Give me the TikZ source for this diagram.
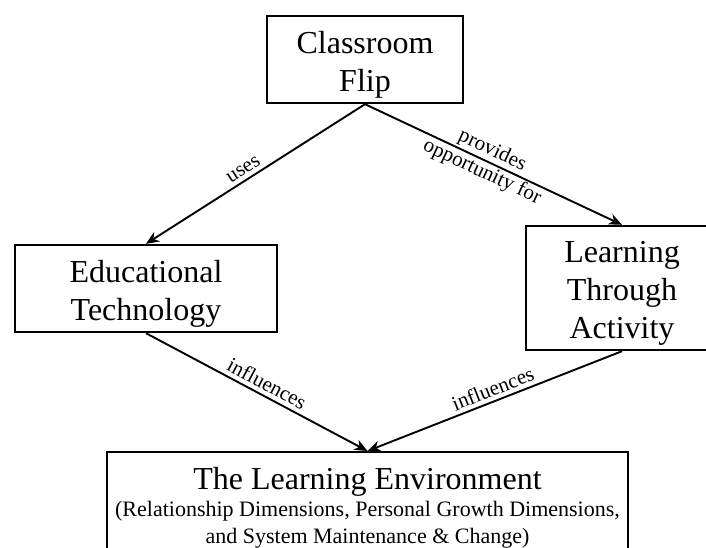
\documentclass[tikz,border=0pt]{standalone}
\usepackage{fontspec}
\setmainfont{Liberation Serif}
\usetikzlibrary{arrows.meta}
\newcommand\mytopstrut{\rule{0pt}{32pt}}
\begin{document}
\begin{tikzpicture}[x=1pt,y=-1pt,
  box/.style={draw, line width=2.4pt, rectangle, inner sep=0pt, align=center,
              font=\fontsize{32}{38}\selectfont},
  conn/.style={line width=1.9pt, -{Stealth[length=13pt,width=11pt,inset=4pt]}},
  lab/.style={font=\fontsize{21}{24}\selectfont, sloped, inner sep=4pt}]
\fill[white] (0,0) rectangle (706,548);
\useasboundingbox (0,0) rectangle (706,548);
\node[box, minimum width=196pt, minimum height=87pt] (cf) at (365,59.5) {\mytopstrut Classroom\\Flip};
\node[box, minimum width=262pt, minimum height=87pt] (et) at (146,288.5) {\mytopstrut Educational\\Technology};
\node[box, minimum width=192pt, minimum height=124pt] (lta) at (622,288) {\mytopstrut Learning\\Through\\Activity};
\node[box, anchor=north, minimum width=521pt, inner ysep=15pt] (tle) at (367.5,451)
  {The Learning Environment\\[-11pt]
   {\fontsize{22}{27}\selectfont (Relationship Dimensions, Personal Growth Dimensions,}\\[-11pt]
   {\fontsize{22}{27}\selectfont and System Maintenance \& Change)}};
\draw[conn] (cf.south) -- node[lab, above, pos=0.53] {uses} (et.north);
\draw[conn] (cf.south) -- node[lab, pos=0.475, align=center, inner sep=0pt] {provides\\opportunity for} (lta.north);
\draw[conn] (et.south) -- node[lab, above, pos=0.52] {influences} (tle.north);
\draw[conn] (lta.south) -- node[lab, above, pos=0.49] {influences} (tle.north);
\end{tikzpicture}
\end{document}
